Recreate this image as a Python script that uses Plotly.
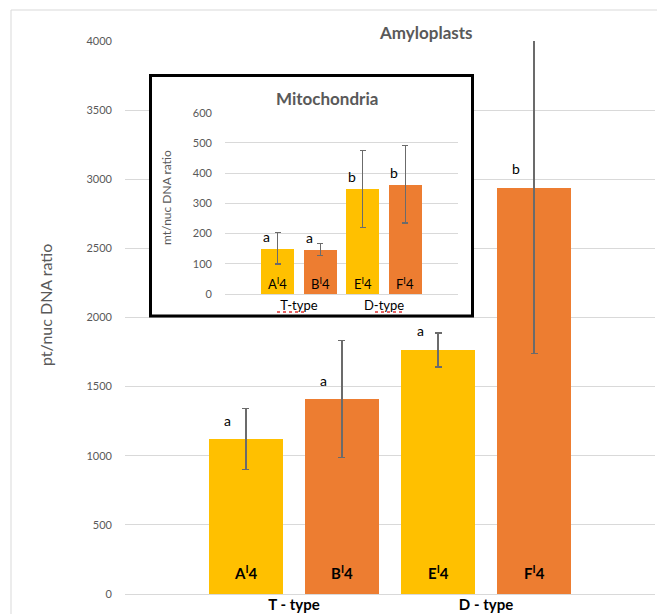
import plotly.graph_objects as go

# ---- data ----
categories = ["A<sup>I</sup>4", "B<sup>I</sup>4", "E<sup>I</sup>4", "F<sup>I</sup>4"]
groups = ["T - type", "D - type"]
inset_groups = ["T-type", "D-type"]
bar_colors = ["#FFC000", "#ED7D31", "#FFC000", "#ED7D31"]

amylo_values = [1120, 1410, 1765, 2940]
amylo_errors = [220, 425, 123, 1198]
amylo_letters = ["a", "a", "a", "b"]
amylo_ticks = [0, 500, 1000, 1500, 2000, 2500, 3000, 3500, 4000]

mito_values = [151, 148, 348, 363]
mito_errors = [52, 20, 127, 128]
mito_letters = ["a", "a", "b", "b"]
mito_ticks = [0, 100, 200, 300, 400, 500, 600]

# ---- layout geometry (pixels) ----
W, H = 657, 614
L, R, T, B = 125, 2, 41, 20
PW, PH = W - L - R, H - T - B


def px_x(x):
    return (x - L) / PW


def px_y(y):
    return (H - B - y) / PH


pos = list(range(len(categories)))
group_pos = [(pos[0] + pos[1]) / 2, (pos[2] + pos[3]) / 2]

GRAY = "#595959"
GRID = "#D9D9D9"
FONT = "Lato, Open Sans, sans-serif"

fig = go.Figure()

# main chart
fig.add_trace(go.Bar(
    x=pos, y=amylo_values, width=0.78,
    marker=dict(color=bar_colors, line=dict(width=0)),
    error_y=dict(type="data", array=amylo_errors, color="#6b6b6b", thickness=1.2, width=3.5),
    xaxis="x", yaxis="y", showlegend=False, hoverinfo="skip",
))

# dummy trace for inset frame subplot
fig.add_trace(go.Scatter(x=[0], y=[0], mode="markers", marker=dict(opacity=0),
                         xaxis="x2", yaxis="y2", showlegend=False, hoverinfo="skip"))

# inset chart
fig.add_trace(go.Bar(
    x=pos, y=mito_values, width=0.78,
    marker=dict(color=bar_colors, line=dict(width=0)),
    error_y=dict(type="data", array=mito_errors, color="#6b6b6b", thickness=1.2, width=3),
    xaxis="x3", yaxis="y3", showlegend=False, hoverinfo="skip",
))

annotations = []


def paper_text(text, x, y, size, angle=0):
    return dict(text=text, x=px_x(x), y=px_y(y), xref="paper", yref="paper", xanchor="center",
                yanchor="middle", showarrow=False, textangle=angle,
                font=dict(size=size, color=GRAY, family=FONT))


# main labels
annotations.append(paper_text("<b>Amyloplasts</b>", 426, 32, 17))
annotations.append(paper_text("pt/nuc DNA ratio", 45, 305, 16, -90))
for p, c, v, lt in zip(pos, categories, amylo_values, amylo_letters):
    annotations.append(dict(text="<b>" + c + "</b>", x=p, y=0, xref="x", yref="y", yanchor="bottom",
                            yshift=10, showarrow=False, font=dict(size=15, color="black", family=FONT)))
    annotations.append(dict(text=lt, x=p, y=v, xref="x", yref="y", yanchor="middle", xshift=-18,
                            yshift=19, showarrow=False, font=dict(size=14, color="black", family=FONT)))

# inset labels
annotations.append(paper_text("<b>Mitochondria</b>", 327, 98, 17))
annotations.append(paper_text("mt/nuc DNA ratio", 166, 198, 12, -90))
for p, c, v, lt in zip(pos, categories, mito_values, mito_letters):
    annotations.append(dict(text=c, x=p, y=0, xref="x3", yref="y3", yanchor="bottom",
                            yshift=0, showarrow=False, font=dict(size=13, color="black", family=FONT)))
    annotations.append(dict(text=lt, x=p, y=v, xref="x3", yref="y3", yanchor="middle", xshift=-11,
                            yshift=12, showarrow=False, font=dict(size=14, color="black", family=FONT)))

shapes = [
    # outer chart border
    dict(type="rect", xref="paper", yref="paper", x0=px_x(11), y0=px_y(640), x1=px_x(700), y1=px_y(10),
         line=dict(color=GRID, width=1), fillcolor="rgba(0,0,0,0)", layer="below"),
    # inset frame
    dict(type="rect", xref="paper", yref="paper", x0=px_x(150.5), y0=px_y(316), x1=px_x(472.5), y1=px_y(75.5),
         line=dict(color="black", width=3), fillcolor="rgba(0,0,0,0)", layer="above"),
    # spell-check squiggles
    dict(type="line", xref="paper", yref="paper", x0=px_x(277), y0=px_y(312), x1=px_x(305), y1=px_y(312),
         line=dict(color="#E03030", width=1.5, dash="dot"), layer="above"),
    dict(type="line", xref="paper", yref="paper", x0=px_x(375), y0=px_y(312), x1=px_x(403), y1=px_y(312),
         line=dict(color="#E03030", width=1.5, dash="dot"), layer="above"),
]

fig.update_layout(
    width=W, height=H,
    margin=dict(l=L, r=R, t=T, b=B, pad=0),
    paper_bgcolor="white", plot_bgcolor="white",
    font=dict(family=FONT, color=GRAY),
    bargap=0,
    annotations=annotations,
    shapes=shapes,
    xaxis=dict(domain=[0, 1], range=[-1.26, 4.26], tickvals=group_pos, ticktext=["<b>" + g + "</b>" for g in groups],
               tickfont=dict(size=15, color="black", family=FONT), showgrid=False, zeroline=False,
               showline=False, ticks="", ticklabelstandoff=0, fixedrange=True, anchor="y"),
    yaxis=dict(domain=[0, 1], range=[0, 4000], tickvals=amylo_ticks, tickfont=dict(size=11, color=GRAY, family=FONT),
               showgrid=True, gridcolor=GRID, gridwidth=1, zeroline=True, zerolinecolor=GRID, zerolinewidth=1,
               showline=False, ticks="", ticklabelstandoff=12, anchor="x"),
    xaxis2=dict(domain=[px_x(150), px_x(473)], range=[0, 1], visible=False, anchor="y2"),
    yaxis2=dict(domain=[px_y(317), px_y(75)], range=[0, 1], visible=False, anchor="x2"),
    xaxis3=dict(domain=[px_x(225), px_x(458)], range=[-1.24, 4.24], tickvals=group_pos, ticktext=inset_groups,
                tickfont=dict(size=13, color="black", family=FONT), showgrid=False, zeroline=False,
                showline=False, ticks="", ticklabelstandoff=2, anchor="y3"),
    yaxis3=dict(domain=[px_y(294), px_y(112.7)], range=[0, 600], tickvals=mito_ticks,
                tickfont=dict(size=11, color=GRAY, family=FONT), showgrid=True, gridcolor=GRID, gridwidth=1,
                zeroline=True, zerolinecolor=GRID, zerolinewidth=1, showline=False, ticks="",
                ticklabelstandoff=12, anchor="x3"),
)

fig.write_html("out.html", config={"displayModeBar": False},
               post_script="document.body.style.margin='0';document.body.style.overflow='hidden';")
